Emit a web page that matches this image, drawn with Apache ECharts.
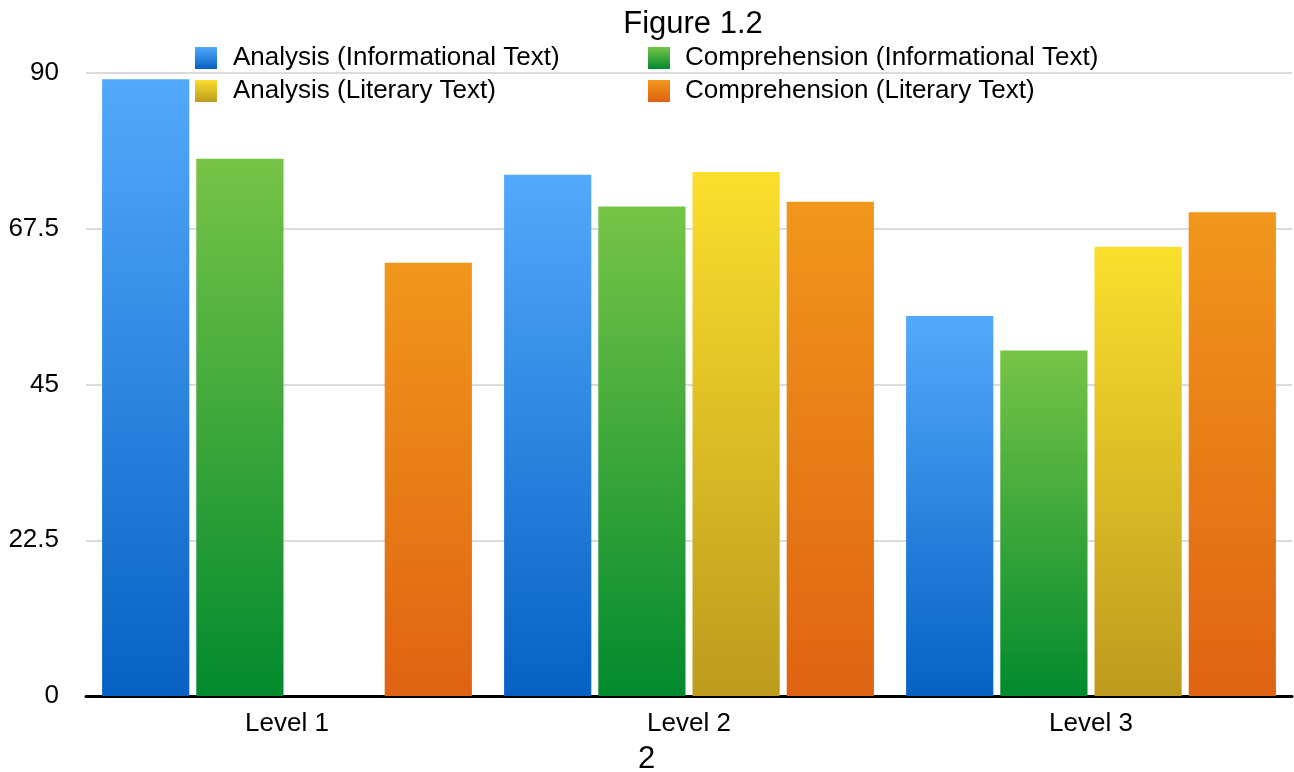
<!DOCTYPE html>
<html>
<head>
<meta charset="utf-8">
<script src="https://cdn.jsdelivr.net/npm/echarts@6/dist/echarts.min.js"></script>
<style>
  html, body { margin: 0; padding: 0; background: #fff; }
  #main { width: 1294px; height: 772px; }
</style>
</head>
<body>
<div id="main"></div>
<script>
// data
var categories = ['Level 1', 'Level 2', 'Level 3'];
var analysisInfo = [89.1, 75.3, 54.9];
var comprehensionInfo = [77.6, 70.7, 49.9];
var analysisLit = ['-', 75.7, 64.9];
var comprehensionLit = [62.6, 71.4, 69.9];
var yTicks = [0, 22.5, 45, 67.5, 90];

var FONT = '"Liberation Sans", Arial, sans-serif';

function grad(top, bottom) {
    return new echarts.graphic.LinearGradient(0, 0, 0, 1, [
        { offset: 0, color: top },
        { offset: 1, color: bottom }
    ]);
}

function barSeries(name, data, top, bottom) {
    return {
        name: name,
        type: 'bar',
        data: data,
        barGap: '8%',
        barCategoryGap: '8%',
        itemStyle: { color: grad(top, bottom) }
    };
}

var chart = echarts.init(document.getElementById('main'));
var option = {
    animation: false,
    title: {
        text: 'Figure 1.2',
        left: 688,
        top: 4,
        textAlign: 'center',
        textStyle: { fontFamily: FONT, fontSize: 31, fontWeight: 'normal', color: '#000' }
    },
    graphic: [{
        type: 'text',
        left: 638,
        top: 744,
        style: { text: '2', font: '31px ' + FONT, fill: '#000' }
    }],
    legend: [{
        orient: 'vertical',
        left: 190,
        top: 40,
        itemWidth: 22,
        itemHeight: 22,
        itemGap: 7,
        icon: 'rect',
        data: ['Analysis (Informational Text)', 'Analysis (Literary Text)'],
        textStyle: { fontFamily: FONT, fontSize: 26, color: '#000', padding: [0, 0, 0, 11] }
    }, {
        orient: 'vertical',
        left: 643,
        top: 40,
        itemWidth: 22,
        itemHeight: 22,
        itemGap: 7,
        icon: 'rect',
        data: ['Comprehension (Informational Text)', 'Comprehension (Literary Text)'],
        textStyle: { fontFamily: FONT, fontSize: 26, color: '#000', padding: [0, 0, 0, 10] }
    }],
    grid: {
        left: 86,
        right: 2,
        top: 73,
        bottom: 76
    },
    xAxis: {
        type: 'category',
        data: categories,
        axisTick: { show: false },
        axisLine: { lineStyle: { color: '#000', width: 3 } },
        axisLabel: { fontFamily: FONT, fontSize: 26, color: '#000', margin: 15 }
    },
    yAxis: {
        type: 'value',
        min: yTicks[0],
        max: yTicks[yTicks.length - 1],
        interval: yTicks[1] - yTicks[0],
        axisLine: { show: false },
        axisTick: { show: false },
        splitLine: { lineStyle: { color: '#cfcfcf', width: 1.5 } },
        axisLabel: { fontFamily: FONT, fontSize: 26, color: '#000', margin: 27 }
    },
    series: [
        barSeries('Analysis (Informational Text)', analysisInfo, '#53a9fb', '#0661c3'),
        barSeries('Comprehension (Informational Text)', comprehensionInfo, '#77c447', '#028a2e'),
        barSeries('Analysis (Literary Text)', analysisLit, '#fadf2d', '#bd9b1e'),
        barSeries('Comprehension (Literary Text)', comprehensionLit, '#f1971c', '#df6312')
    ]
};
chart.setOption(option);
</script>
</body>
</html>
